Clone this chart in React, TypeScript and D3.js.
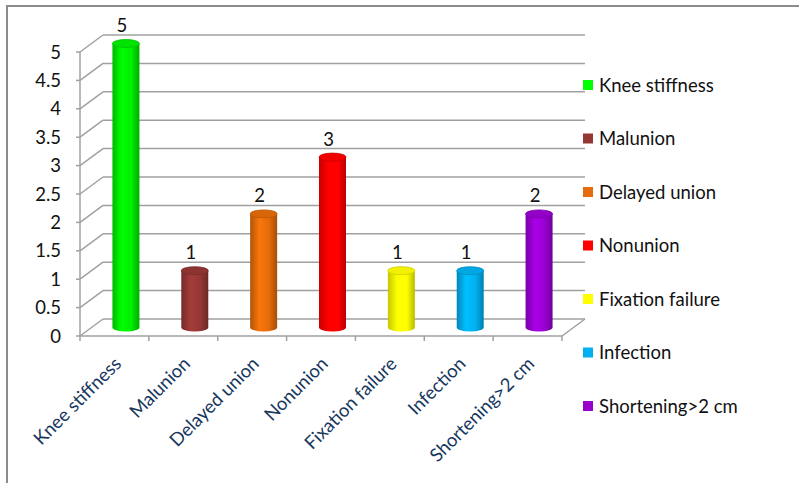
import React from "react";
import * as d3 from "d3";

const categories = [
  "Knee stiffness",
  "Malunion",
  "Delayed union",
  "Nonunion",
  "Fixation failure",
  "Infection",
  "Shortening>2 cm",
];
const counts = [5, 1, 2, 3, 1, 1, 2];
const colors = ["#00ee00", "#953735", "#e46c0a", "#ff0000", "#ffff00", "#00b0f0", "#9b00d3"];
const legendColors = ["#00ff00", "#953735", "#e46c0a", "#ff0000", "#ffff00", "#00b0f0", "#9900cc"];
const yTicks = [0, 0.5, 1, 1.5, 2, 2.5, 3, 3.5, 4, 4.5, 5];

const W = 799;
const H = 483;
const FONT = "Lato, 'Liberation Sans', sans-serif";
const FS = 18.5;
const DX = 23; // depth offset
const DY = -17;

const App = () => {
  const x = d3.scaleBand().domain(categories).range([80, 562]).paddingInner(0);
  const y = d3.scaleLinear().domain([0, 5]).range([336, 52]);
  const grid = "#a0a0a0";
  const rx = 13.5;
  const ry = 4;

  return (
    <svg
      width={W}
      height={H}
      style={{ position: "fixed", left: 0, top: 0, background: "#fff" }}
    >
      <defs>
        {colors.map((c, i) => {
          const base = d3.color(c)!;
          return (
            <linearGradient key={i} id={`g${i}`} x1="0" x2="1" y1="0" y2="0">
              <stop offset="0" stopColor={base.darker(0.7).formatHex()} />
              <stop offset="0.35" stopColor={base.brighter(0.25).formatHex()} />
              <stop offset="0.7" stopColor={base.formatHex()} />
              <stop offset="1" stopColor={base.darker(0.9).formatHex()} />
            </linearGradient>
          );
        })}
      </defs>

      {/* outer frame */}
      <rect x={7} y={6} width={820} height={520} fill="none" stroke="#8c8c8c" strokeWidth={2} />

      {/* back wall grid + side diagonals */}
      {yTicks.map((t) => (
        <g key={t} stroke={grid} strokeWidth={1.5} fill="none">
          <line x1={80 + DX} x2={562 + DX} y1={y(t) + DY} y2={y(t) + DY} />
          <line x1={80} x2={80 + DX} y1={y(t)} y2={y(t) + DY} />
          <line x1={76} x2={80} y1={y(t)} y2={y(t)} />
        </g>
      ))}
      {/* axes */}
      <g stroke={grid} strokeWidth={1.5}>
        <line x1={80} x2={80} y1={y(5)} y2={y(0)} />
        <line x1={80} x2={562} y1={y(0)} y2={y(0)} />
        <line x1={562} x2={562 + DX} y1={y(0)} y2={y(0) + DY} />
        {d3.range(categories.length + 1).map((i) => {
          const xx = 80 + i * x.bandwidth();
          return <line key={i} x1={xx} x2={xx} y1={y(0)} y2={y(0) + 5} />;
        })}
      </g>

      {/* y tick labels */}
      {yTicks.map((t) => (
        <text
          key={t}
          x={61}
          y={y(t)}
          dy="0.36em"
          textAnchor="end"
          fontFamily={FONT}
          fontSize={FS}
          fill="#111"
        >
          {t}
        </text>
      ))}

      {/* cylinders */}
      {categories.map((c, i) => {
        const cx = x(c)! + x.bandwidth() / 2 + DX / 2;
        const yb = y(0) + DY / 2;
        const yt = y(counts[i]) + DY / 2;
        const base = d3.color(colors[i])!;
        return (
          <g key={c}>
            <path
              d={`M${cx - rx},${yt} L${cx - rx},${yb} A${rx},${ry} 0 0 0 ${cx + rx},${yb} L${cx + rx},${yt} Z`}
              fill={`url(#g${i})`}
            />
            <ellipse
              cx={cx}
              cy={yt}
              rx={rx}
              ry={ry}
              fill={base.darker(0.15).formatHex()}
              stroke={base.darker(0.6).formatHex()}
              strokeWidth={0.8}
            />
            <text
              x={cx - 4}
              y={y(counts[i]) - 20}
              textAnchor="middle"
              fontFamily={FONT}
              fontSize={FS}
              fill="#111"
            >
              {counts[i]}
            </text>
          </g>
        );
      })}

      {/* x labels */}
      {categories.map((c) => {
        const ax = x(c)! + x.bandwidth() / 2 + 8;
        const ay = 365;
        return (
          <text
            key={c}
            transform={`translate(${ax},${ay}) rotate(-45)`}
            textAnchor="end"
            fontFamily={FONT}
            fontSize={FS}
            fill="#17375e"
          >
            {c}
          </text>
        );
      })}

      {/* legend */}
      {categories.map((c, i) => {
        const ly = 85 + i * 53.5;
        return (
          <g key={c}>
            <rect x={583} y={ly - 5} width={10} height={10} fill={legendColors[i]} />
            <text x={599} y={ly} dy="0.36em" fontFamily={FONT} fontSize={FS} fill="#111">
              {c}
            </text>
          </g>
        );
      })}
    </svg>
  );
};

export default App;
